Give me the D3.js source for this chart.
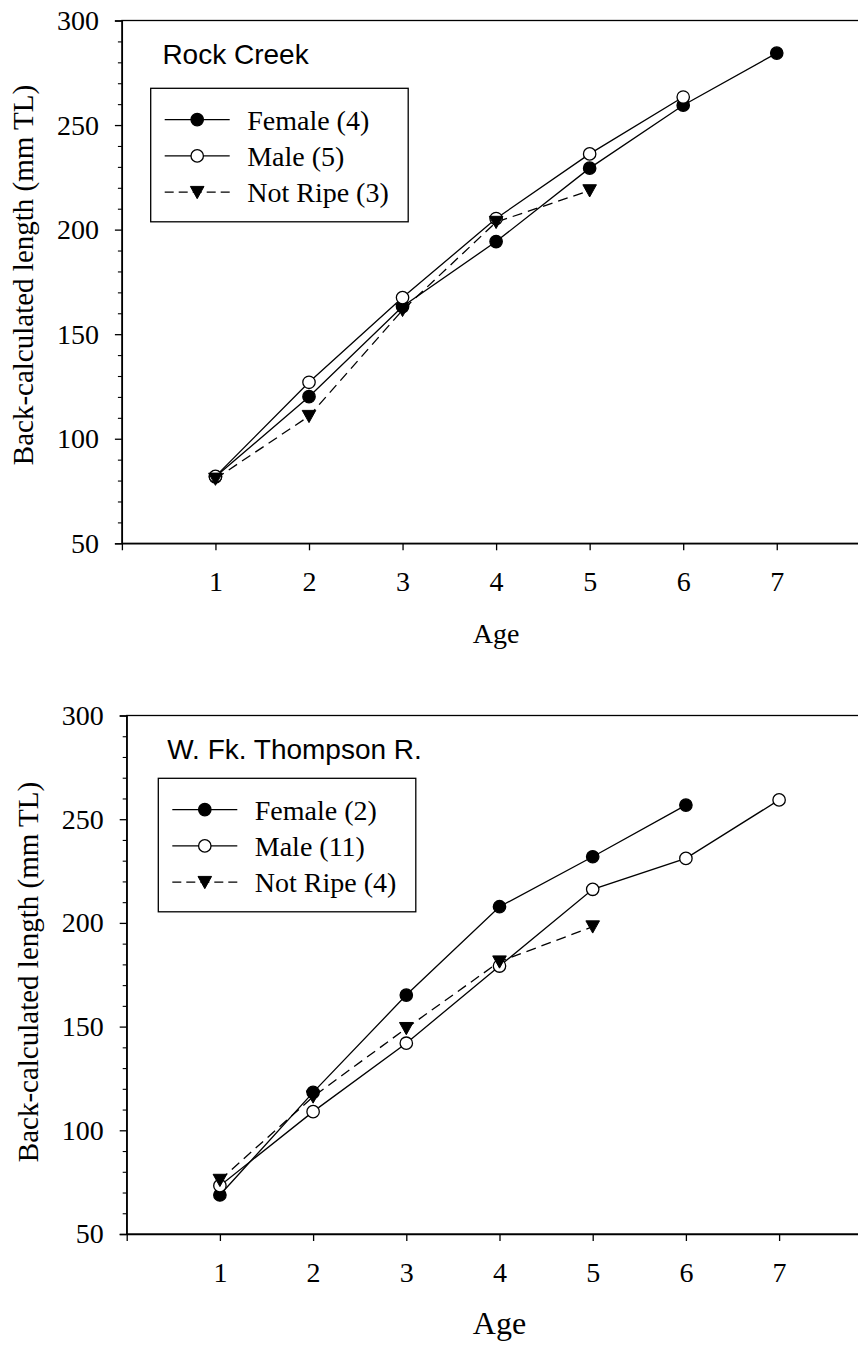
<!DOCTYPE html>
<html>
<head>
<meta charset="utf-8">
<script src="https://cdn.jsdelivr.net/npm/d3@7"></script>
<style>
  html, body { margin: 0; padding: 0; background: #fff; }
  svg { display: block; }
</style>
</head>
<body>
<svg id="chart" width="858" height="1345"></svg>
<script>
// ---------------- DATA ----------------
const ages = [1, 2, 3, 4, 5, 6, 7];
const xTicks = [1, 2, 3, 4, 5, 6, 7];
const yTicks = [50, 100, 150, 200, 250, 300];

const panelTitles = ["Rock Creek", "W. Fk. Thompson R."];
const seriesNames = ["Female", "Male", "Not Ripe"];

// Rock Creek
const rcFemaleN = 4, rcMaleN = 5, rcNotRipeN = 3;
const rcFemale  = [81.8, 120.1, 163.2, 194.3, 229.4, 259.5, 284.4];
const rcMale    = [82.0, 127.0, 167.5, 205.3, 236.2, 263.4];
const rcNotRipe = [80.8, 110.8, 161.5, 203.6, 218.7];

// W. Fk. Thompson R.
const wfFemaleN = 2, wfMaleN = 11, wfNotRipeN = 4;
const wfFemale  = [68.8, 118.3, 165.2, 207.8, 231.9, 256.8];
const wfMale    = [73.3, 109.0, 142.0, 179.2, 216.2, 231.1, 259.3];
const wfNotRipe = [76.0, 116.2, 149.2, 181.3, 198.2];

const xLabel = "Age";
const yLabel = "Back-calculated length (mm TL)";

// ---------------- DRAW ----------------
const svg = d3.select("#chart");
const serif = "'Liberation Serif', 'Times New Roman', serif";
const sans = "'Liberation Sans', Arial, sans-serif";

function drawPanel(cfg) {
  const x = d3.scaleLinear().domain([0, 8]).range([cfg.left, cfg.left + 8 * cfg.unit]);
  const y = d3.scaleLinear().domain([50, 300]).range([cfg.bottom, cfg.top]);
  const g = svg.append("g");

  // frame
  g.append("rect")
    .attr("x", x(0)).attr("y", y(300))
    .attr("width", x(8) - x(0)).attr("height", y(50) - y(300))
    .attr("fill", "none").attr("stroke", "#000").attr("stroke-width", 1.3);

  // y axis
  const yAxis = d3.axisLeft(y).tickValues(yTicks).tickSize(7).tickPadding(16)
    .tickFormat(d3.format("d"));
  const ya = g.append("g").attr("transform", `translate(${x(0)},0)`).call(yAxis);
  ya.select(".domain").attr("stroke-width", 1.3);
  ya.selectAll(".tick line").attr("stroke-width", 1.3);
  ya.selectAll("text").attr("font-family", serif).attr("font-size", 28).attr("fill", "#000");

  // minor y ticks
  const minor = d3.range(60, 300, 10).filter(v => v % 50 !== 0);
  g.append("g").attr("transform", `translate(${x(0)},0)`)
    .call(d3.axisLeft(y).tickValues(minor).tickSize(4).tickFormat(""))
    .call(s => s.select(".domain").remove())
    .selectAll(".tick line").attr("stroke-width", 1.1);

  // x axis
  const xAxis = d3.axisBottom(x).tickValues(xTicks).tickSize(7).tickPadding(21)
    .tickFormat(d3.format("d"));
  const xa = g.append("g").attr("transform", `translate(0,${y(50)})`).call(xAxis);
  xa.select(".domain").attr("stroke-width", 1.3);
  xa.selectAll(".tick line").attr("stroke-width", 1.3);
  xa.selectAll("text").attr("font-family", serif).attr("font-size", 28).attr("fill", "#000");

  // axis titles
  g.append("text")
    .attr("x", x(4)).attr("y", y(50) + 100)
    .attr("text-anchor", "middle")
    .attr("font-family", serif).attr("font-size", cfg.xLabelSize)
    .text(xLabel);
  g.append("text")
    .attr("transform", `translate(${cfg.yLabelX},${cfg.yLabelY}) rotate(-90)`)
    .attr("text-anchor", "middle")
    .attr("font-family", serif).attr("font-size", 29)
    .text(yLabel);

  // panel title
  g.append("text")
    .attr("x", x(0) + 40.5).attr("y", y(300) + 43.3)
    .attr("font-family", sans).attr("font-size", 28)
    .text(cfg.title);

  // series
  const line = d3.line().x((d, i) => x(ages[i])).y(d => y(d));
  const styles = [
    { dash: null, marker: "circle", fill: "#000" },
    { dash: null, marker: "circle", fill: "#fff" },
    { dash: "10,6", marker: "tri", fill: "#000" }
  ];
  const triPath = r => `M${-r},${-r * 0.85}L${r},${-r * 0.85}L0,${r * 0.95}Z`;

  function marker(sel, st) {
    if (st.marker === "circle") {
      sel.append("circle").attr("r", 6.2)
        .attr("fill", st.fill).attr("stroke", "#000").attr("stroke-width", 1.3);
    } else {
      sel.append("path").attr("d", triPath(6.8))
        .attr("fill", st.fill).attr("stroke", "#000").attr("stroke-width", 1);
    }
  }

  cfg.series.forEach((vals, si) => {
    const st = styles[si];
    g.append("path").datum(vals)
      .attr("d", line)
      .attr("fill", "none").attr("stroke", "#000").attr("stroke-width", 1.3)
      .attr("stroke-dasharray", st.dash);
  });
  cfg.series.forEach((vals, si) => {
    const st = styles[si];
    g.selectAll(null).data(vals).enter().append("g")
      .attr("transform", (d, i) => `translate(${x(ages[i])},${y(d)})`)
      .each(function () { marker(d3.select(this), st); });
  });

  // legend
  const lx = x(0) + cfg.legend.dx, ly = y(300) + cfg.legend.dy;
  const lg = g.append("g").attr("transform", `translate(${lx},${ly})`);
  lg.append("rect").attr("width", 257.5).attr("height", 133.5)
    .attr("fill", "#fff").attr("stroke", "#000").attr("stroke-width", 1.3);
  cfg.labels.forEach((lab, i) => {
    const st = styles[i];
    const rowY = 31.3 + i * 36.3;
    lg.append("line").attr("x1", 14).attr("x2", 79).attr("y1", rowY).attr("y2", rowY)
      .attr("stroke", "#000").attr("stroke-width", 1.3).attr("stroke-dasharray", st.dash ? "9,5" : null);
    const m = lg.append("g").attr("transform", `translate(46.5,${rowY})`);
    marker(m, st);
    lg.append("text").attr("x", 96.5).attr("y", rowY + 10)
      .attr("font-family", serif).attr("font-size", 28)
      .text(lab);
  });
}

drawPanel({
  title: panelTitles[0],
  left: 121.9, unit: 93.55, top: 20.5, bottom: 543.3,
  yLabelX: 33, yLabelY: 275, xLabelSize: 28,
  series: [rcFemale, rcMale, rcNotRipe],
  labels: [`${seriesNames[0]} (${rcFemaleN})`, `${seriesNames[1]} (${rcMaleN})`, `${seriesNames[2]} (${rcNotRipeN})`],
  legend: { dx: 28.8, dy: 67.8 }
});
drawPanel({
  title: panelTitles[1],
  left: 126.7, unit: 93.2, top: 715.5, bottom: 1234,
  yLabelX: 38, yLabelY: 972, xLabelSize: 32,
  series: [wfFemale, wfMale, wfNotRipe],
  labels: [`${seriesNames[0]} (${wfFemaleN})`, `${seriesNames[1]} (${wfMaleN})`, `${seriesNames[2]} (${wfNotRipeN})`],
  legend: { dx: 31.6, dy: 62.8 }
});
</script>
</body>
</html>
